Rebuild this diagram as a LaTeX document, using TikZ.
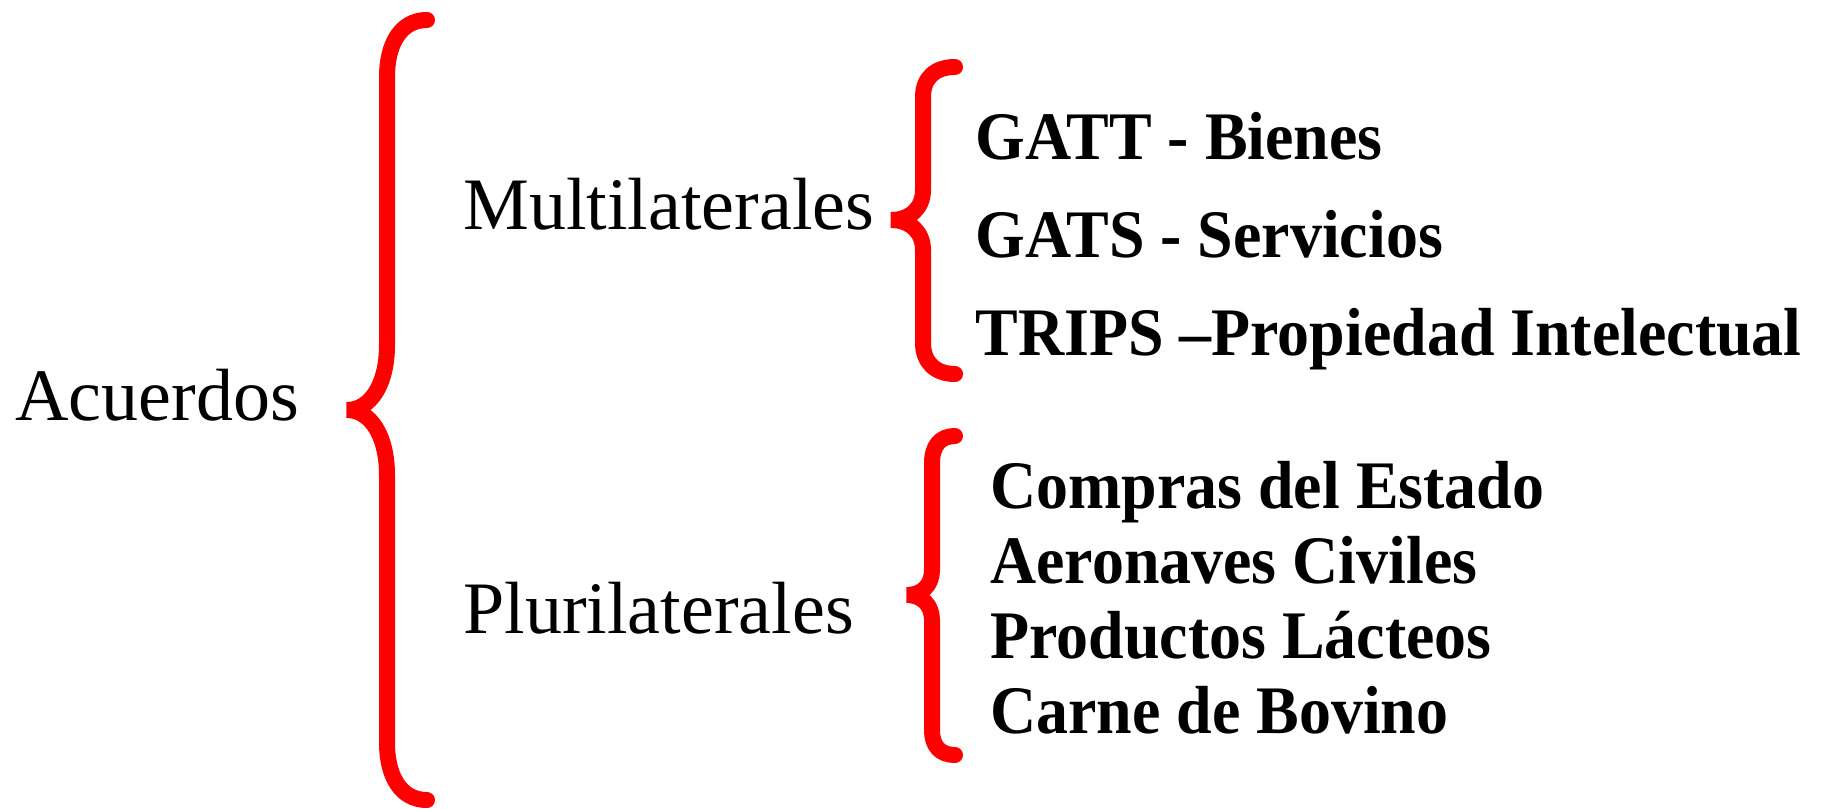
\documentclass[tikz,border=0pt]{standalone}
\usepackage{fontspec}
\setmainfont{Liberation Serif}
\newfontfamily\itemfont[FakeStretch=0.94]{Liberation Serif}
\begin{document}
\begin{tikzpicture}[x=0.5pt,y=-0.5pt,
  bracestyle/.style={draw=red, line width=8pt, line cap=round, line join=bevel},
  lbl/.style={anchor=base west, inner sep=0pt, font=\fontsize{37pt}{40pt}\selectfont},
  itm/.style={anchor=base west, inner sep=0pt, font=\itemfont\bfseries\fontsize{34pt}{37pt}\selectfont}]
\useasboundingbox[fill=white] (0,0) rectangle (1824,808);
% labels
\node[lbl] (acuerdos) at (15,420) {Acuerdos};
\node[lbl] (multi) at (463,229) {Multilaterales};
\node[lbl] (pluri) at (463,633) {Plurilaterales};
% items
\node[itm] (gatt) at (975,159) {GATT - Bienes};
\node[itm] (gats) at (975,257) {GATS - Servicios};
\node[itm] (trips) at (975,355) {TRIPS –Propiedad Intelectual};
\node[itm] (compras) at (990,508) {Compras del Estado};
\node[itm] (aero) at (990,583) {Aeronaves Civiles};
\node[itm] (lacteos) at (990,658) {Productos Lácteos};
\node[itm] (carne) at (990,733) {Carne de Bovino};
% big brace
\draw[bracestyle] (427,20) .. controls (400,20) and (387,45) .. (387,77)
  -- (387,345) .. controls (387,385) and (370,410) .. (347,410)
  .. controls (370,410) and (387,435) .. (387,475)
  -- (387,743) .. controls (387,775) and (400,800) .. (427,800);
% brace multilaterales
\draw[bracestyle] (955,67) .. controls (935,67) and (923,78) .. (923,97)
  -- (923,190) .. controls (923,208) and (910,220) .. (891,220)
  .. controls (910,220) and (923,232) .. (923,250)
  -- (923,343) .. controls (923,362) and (935,374) .. (955,374);
% brace plurilaterales
\draw[bracestyle] (955,436) .. controls (940,436) and (932,446) .. (932,463)
  -- (932,570) .. controls (932,585) and (922,595) .. (907,595)
  .. controls (922,595) and (932,605) .. (932,620)
  -- (932,730) .. controls (932,746) and (940,755) .. (955,755);
\end{tikzpicture}
\end{document}
